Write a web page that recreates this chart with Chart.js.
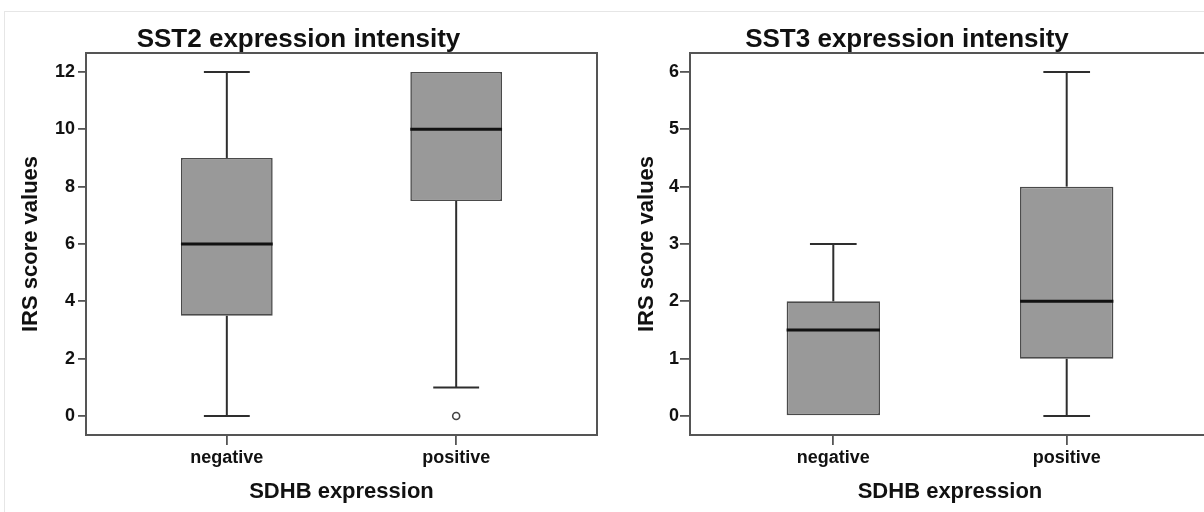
<!DOCTYPE html>
<html>
<head>
<meta charset="utf-8">
<script src="https://cdn.jsdelivr.net/npm/chart.js@4.4.1/dist/chart.umd.min.js"></script>
<style>
  html, body { margin: 0; padding: 0; background: #fff; width: 1204px; height: 512px; overflow: hidden; }
  #wrap { position: relative; width: 1204px; height: 512px; overflow: hidden; }
  #frame { position: absolute; left: 4px; top: 11px; width: 1400px; height: 700px; border-left: 1px solid #e6e6e6; border-top: 1px solid #e6e6e6; }
  canvas { position: absolute; top: 0; }
  #c1 { left: 0; }
  #c2 { left: 604px; }
</style>
</head>
<body>
<div id="wrap">
  <div id="frame"></div>
  <canvas id="c1" width="604" height="512"></canvas>
  <canvas id="c2" width="624" height="512"></canvas>
</div>
<script>
// ---- data ----
const categories = ['negative', 'positive'];

const sst2Min = [0, 1];
const sst2Q1 = [3.5, 7.5];
const sst2Median = [6, 10];
const sst2Q3 = [9, 12];
const sst2Max = [12, 12];
const sst2Outliers = [[], [0]];
const sst2Ticks = [0, 2, 4, 6, 8, 10, 12];

const sst3Min = [0, 0];
const sst3Q1 = [0, 1];
const sst3Median = [1.5, 2];
const sst3Q3 = [2, 4];
const sst3Max = [3, 6];
const sst3Outliers = [[], []];
const sst3Ticks = [0, 1, 2, 3, 4, 5, 6];

// ---- styling ----
const FONT = "'Liberation Sans', Arial, Helvetica, sans-serif";
const TEXT = '#111111';
const BOX_FILL = '#999999';
const BOX_EDGE = '#4a4a4a';
const WHISKER = '#2e2e2e';
const AXIS = '#555555';
const BOX_HALF = 0.2;   // box half-width in category units
const CAP_HALF = 0.1;   // whisker cap half-width

const framePlugin = {
  id: 'frame',
  beforeDatasetsDraw(chart) {
    const {ctx, chartArea: a} = chart;
    ctx.save();
    ctx.strokeStyle = AXIS;
    ctx.lineWidth = 2;
    ctx.strokeRect(a.left, a.top, a.right - a.left, a.bottom - a.top);
    ctx.restore();
  }
};

function buildChart(id, cfg) {
  const xs = categories.map((c, i) => i + 1);
  const seg = (pts, order, width, color) => ({
    type: 'line', data: pts, order: order, borderColor: color, borderWidth: width,
    pointRadius: 0, fill: false, tension: 0
  });
  const datasets = [];
  // box (floating bars)
  datasets.push({
    type: 'bar',
    data: xs.map((x, i) => ({x: x, y: [cfg.q1[i], cfg.q3[i]]})),
    backgroundColor: BOX_FILL, borderColor: BOX_EDGE, borderWidth: 1.6,
    borderSkipped: false, barPercentage: 0.4, categoryPercentage: 1, order: 2
  });
  xs.forEach((x, i) => {
    // whiskers
    if (cfg.max[i] > cfg.q3[i]) datasets.push(seg([{x: x, y: cfg.q3[i]}, {x: x, y: cfg.max[i]}], 3, 2, WHISKER));
    if (cfg.min[i] < cfg.q1[i]) datasets.push(seg([{x: x, y: cfg.min[i]}, {x: x, y: cfg.q1[i]}], 3, 2, WHISKER));
    // caps
    if (cfg.max[i] > cfg.q3[i]) datasets.push(seg([{x: x - CAP_HALF, y: cfg.max[i]}, {x: x + CAP_HALF, y: cfg.max[i]}], 3, 2, WHISKER));
    if (cfg.min[i] < cfg.q1[i]) datasets.push(seg([{x: x - CAP_HALF, y: cfg.min[i]}, {x: x + CAP_HALF, y: cfg.min[i]}], 3, 2, WHISKER));
    // median
    datasets.push(seg([{x: x - BOX_HALF, y: cfg.median[i]}, {x: x + BOX_HALF, y: cfg.median[i]}], 0, 3, '#111111'));
  });
  // outliers
  const outPts = [];
  xs.forEach((x, i) => cfg.outliers[i].forEach(v => outPts.push({x: x, y: v})));
  datasets.push({
    type: 'scatter', data: outPts, order: 0,
    pointStyle: 'circle', pointRadius: 3.5, pointBorderWidth: 1.6,
    pointBorderColor: '#444444', pointBackgroundColor: '#ffffff', showLine: false
  });

  return new Chart(document.getElementById(id), {
    type: 'bar',
    data: {datasets: datasets},
    plugins: [framePlugin],
    options: {
      responsive: false,
      animation: false,
      devicePixelRatio: 1,
      layout: {padding: {left: 0, right: cfg.padRight, top: 0, bottom: 0}},
      plugins: {
        legend: {display: false},
        tooltip: {enabled: false},
        title: {
          display: true, text: cfg.title, color: TEXT,
          font: {family: FONT, size: 26, weight: 'bold', lineHeight: 1.0},
          padding: {top: 27, bottom: 0}
        }
      },
      scales: {
        x: {
          type: 'linear', min: 0.386, max: 2.614, offset: false,
          afterBuildTicks: s => { s.ticks = xs.map(v => ({value: v})); },
          afterFit: s => { s.height = 77; },
          ticks: {
            color: TEXT, font: {family: FONT, size: 18, weight: 'bold'}, padding: 2,
            autoSkip: false, maxRotation: 0,
            callback: v => categories[Math.round(v) - 1]
          },
          grid: {display: true, offset: false, drawOnChartArea: false, drawTicks: true, tickLength: 10, color: AXIS, lineWidth: 1.8},
          border: {display: false},
          title: {
            display: true, text: 'SDHB expression', color: TEXT,
            font: {family: FONT, size: 22, weight: 'bold'},
            padding: {top: 0, bottom: 7}
          }
        },
        y: {
          type: 'linear', min: cfg.yMin, max: cfg.yMax,
          afterBuildTicks: s => { s.ticks = cfg.ticks.map(v => ({value: v})); },
          afterFit: s => { s.width = 86; },
          ticks: {color: TEXT, font: {family: FONT, size: 18, weight: 'bold'}, padding: cfg.yPad},
          grid: {display: true, offset: false, drawOnChartArea: false, drawTicks: true, tickLength: cfg.yTick, color: AXIS, lineWidth: 1.8},
          border: {display: false},
          title: {
            display: true, text: 'IRS score values', color: TEXT,
            font: {family: FONT, size: 22, weight: 'bold'},
            padding: {top: cfg.yTitlePad, bottom: 0}
          }
        }
      }
    }
  });
}

buildChart('c1', {
  title: 'SST2 expression intensity',
  min: sst2Min, q1: sst2Q1, median: sst2Median, q3: sst2Q3, max: sst2Max, outliers: sst2Outliers,
  ticks: sst2Ticks, yMin: -0.66, yMax: 12.66,
  padRight: 7, yTitlePad: 18, yTick: 8, yPad: 3
});
buildChart('c2', {
  title: 'SST3 expression intensity',
  min: sst3Min, q1: sst3Q1, median: sst3Median, q3: sst3Q3, max: sst3Max, outliers: sst3Outliers,
  ticks: sst3Ticks, yMin: -0.33, yMax: 6.33,
  padRight: 18, yTitlePad: 30, yTick: 10, yPad: 1
});
</script>
</body>
</html>
